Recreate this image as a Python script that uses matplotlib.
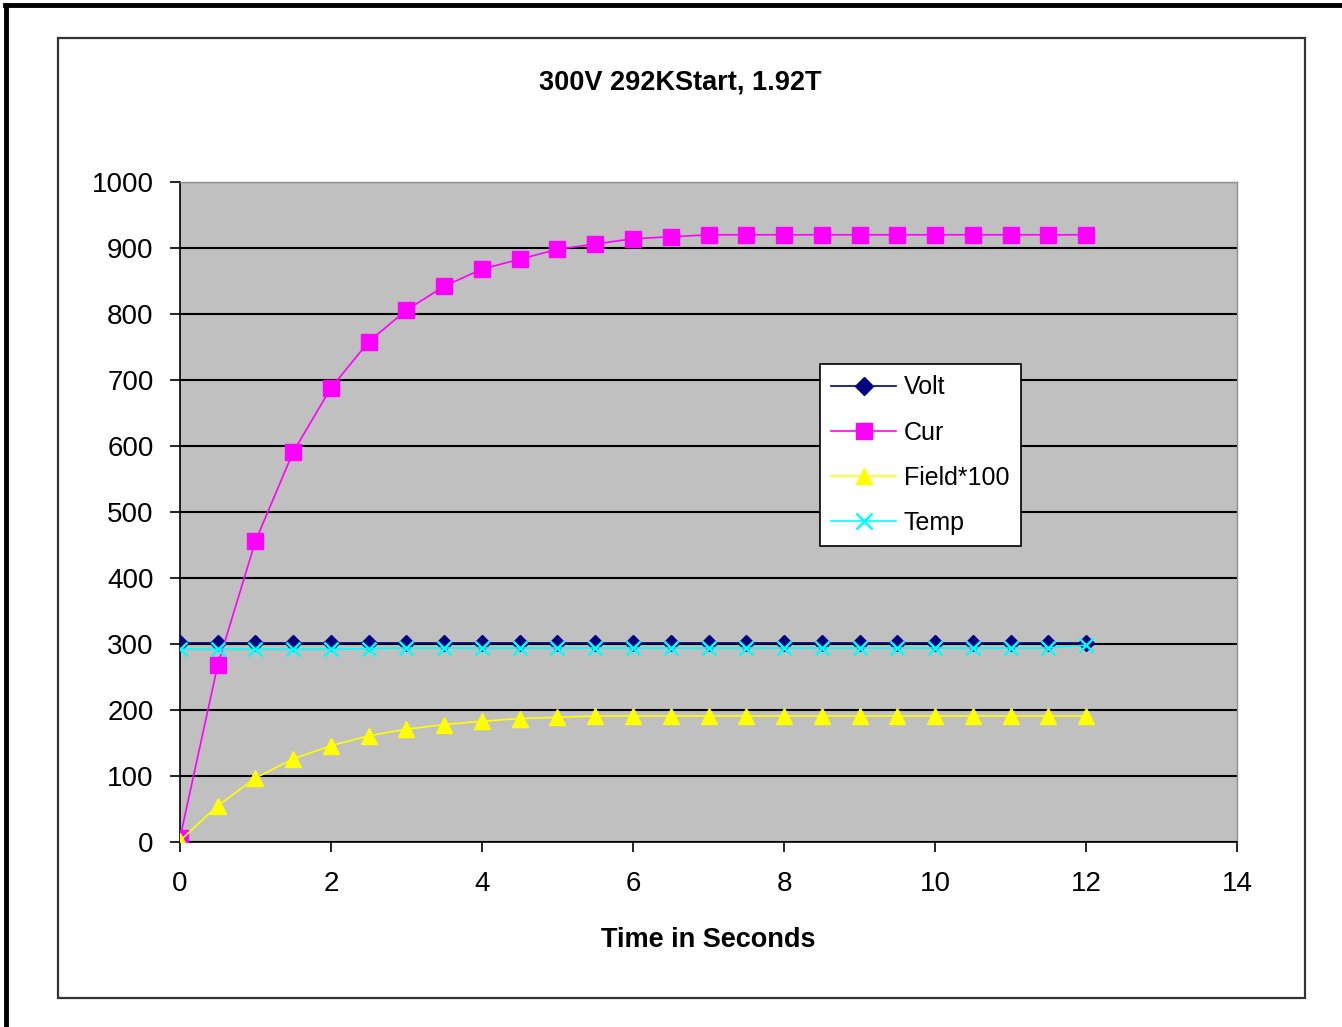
import numpy as np
import matplotlib
matplotlib.use("Agg")
import matplotlib.pyplot as plt
from matplotlib.patches import Rectangle
from matplotlib.lines import Line2D

plt.rcParams["font.family"] = ["Liberation Sans", "DejaVu Sans"]

# time axis, one sample every half second
t = np.arange(0, 12.01, 0.5)

volt = [302] * 25
cur = [6, 268, 456, 591, 688, 758, 806, 842, 868, 883, 898, 906, 914, 917,
       920, 920, 920, 920, 920, 920, 920, 920, 920, 920, 920]
field100 = [2, 55, 97, 126, 146, 161, 171, 178, 183, 187, 189, 191, 191, 191,
            191, 191, 191, 191, 191, 191, 191, 191, 191, 191, 191]
temp = [292, 292, 292, 292, 292, 293, 294, 294, 294, 294, 294, 294, 294, 294,
        294, 294, 294, 294, 294, 294, 294, 294, 294, 294, 298]

fig = plt.figure(figsize=(13.42, 10.27), dpi=100)

# outer frame (only top/left visible) and chart-area box
fig.add_artist(Line2D([0.004, 1.0], [0.9951, 0.9951], color="black", lw=3.5))
fig.add_artist(Line2D([0.0045, 0.0045], [0.0, 0.9951], color="black", lw=3.5))
fig.add_artist(Rectangle((0.0432, 0.0282), 0.9292, 0.9348, fill=False,
                         edgecolor="#333333", lw=1.6, transform=fig.transFigure))

ax = fig.add_axes([0.1341, 0.1801, 0.7877, 0.6427])
ax.set_facecolor("#C0C0C0")

ax.plot(t, volt, color="#000080", lw=1.2, marker="D", ms=8, label="Volt", zorder=3)
ax.plot(t, cur, color="#FF00FF", lw=1.2, marker="s", ms=11, label="Cur", zorder=3)
ax.plot(t, field100, color="#FFFF00", lw=1.2, marker="^", ms=11, label="Field*100", zorder=3)
ax.plot(t, temp, color="#00FFFF", lw=1.2, marker="x", ms=10, mew=1.8, label="Temp", zorder=3)

ax.set_xlim(0, 14)
ax.set_ylim(0, 1000)
ax.set_xticks(range(0, 15, 2))
ax.set_yticks(range(0, 1001, 100))
ax.yaxis.grid(True, color="black", lw=1.5)
ax.set_axisbelow(True)
ax.tick_params(axis="both", direction="out", length=7, width=1.2, labelsize=20,
               colors="black")
ax.tick_params(axis="y", pad=12)
ax.tick_params(axis="x", pad=14)
for s in ("left", "bottom"):
    ax.spines[s].set_color("black")
    ax.spines[s].set_linewidth(1.2)
for s in ("top", "right"):
    ax.spines[s].set_color("#909090")
    ax.spines[s].set_linewidth(1.0)

fig.text(0.507, 0.920, "300V 292KStart, 1.92T", ha="center", va="center",
         fontsize=19.5, fontweight="bold")
fig.text(0.528, 0.0847, "Time in Seconds", ha="center", va="center",
         fontsize=19.5, fontweight="bold")

leg = ax.legend(loc="upper left", bbox_to_anchor=(0.6055, 0.7242), fontsize=18,
                frameon=True, fancybox=False, edgecolor="black", framealpha=1,
                handlelength=2.6, borderpad=0.45, labelspacing=0.85,
                handletextpad=0.3, borderaxespad=0, markerscale=1.1)
leg.get_frame().set_linewidth(1.2)

fig.savefig("out.png", dpi=100)
